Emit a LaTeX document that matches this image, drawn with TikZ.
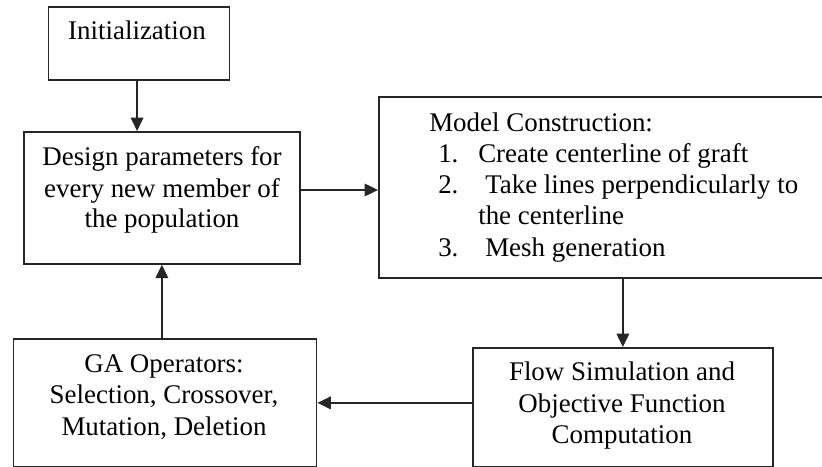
\documentclass[tikz,border=0pt]{standalone}
\usepackage{fontspec}
\setmainfont{Liberation Serif}
\usetikzlibrary{arrows.meta}
\begin{document}
\begin{tikzpicture}[x=0.75pt,y=-0.75pt,
  box/.style={draw=black!85, line width=1.3pt, rectangle, inner sep=0pt, anchor=north west},
  txt/.style={inner sep=0pt, anchor=base, font=\fontsize{20.2pt}{23.6pt}\selectfont},
  ltxt/.style={txt, anchor=base west},
  arr/.style={draw=black!85, line width=1pt, -{Triangle[length=10pt,width=9.5pt]}}]
\useasboundingbox (0,0) rectangle (822,467);
% boxes
\node[box, minimum width=181pt*0.75, minimum height=73pt*0.75] (init) at (47.7,6) {};
\node[box, minimum width=276pt*0.75, minimum height=132pt*0.75] (design) at (23,131) {};
\node[box, minimum width=452pt*0.75, minimum height=181pt*0.75] (model) at (378,96) {};
\node[box, minimum width=303pt*0.75, minimum height=128pt*0.75] (ga) at (12.7,338) {};
\node[box, minimum width=300pt*0.75, minimum height=119pt*0.75] (flow) at (472,347) {};
% texts
\node[txt] (t1) at (137,39.5) {Initialization};
\node[txt] (t2a) at (162,166) {Design parameters for};
\node[txt] (t2b) at (162,197) {every new member of};
\node[txt] (t2c) at (162,228) {the population};
\node[ltxt] (t3a) at (429,132) {Model Construction:};
\node[ltxt] (t3b) at (438,162.5) {1.};
\node[ltxt] (t3c) at (478,162.5) {Create centerline of graft};
\node[ltxt] (t3d) at (438,193.5) {2.};
\node[ltxt] (t3e) at (485,193.5) {Take lines perpendicularly to};
\node[ltxt] (t3f) at (478,224.5) {the centerline};
\node[ltxt] (t3g) at (438,256) {3.};
\node[ltxt] (t3h) at (485,256) {Mesh generation};
\node[txt] (t4a) at (164,372) {GA Operators:};
\node[txt] (t4b) at (164,403.5) {Selection, Crossover,};
\node[txt] (t4c) at (164,435) {Mutation, Deletion};
\node[txt] (t5a) at (622,380.5) {Flow Simulation and};
\node[txt] (t5b) at (622,412) {Objective Function};
\node[txt] (t5c) at (622,443.5) {Computation};
% connectors
\coordinate (mid) at (0,190);
\draw[arr] ([xshift=-1.5pt]init.south) -- ([xshift=-1.5pt]init.south |- design.north);
\draw[arr] (design.east |- mid) -- (model.west |- mid);
\draw[arr] (flow.north |- model.south) -- (flow.north);
\draw[arr] (flow.west |- ga.east) -- (ga.east);
\draw[arr] (ga.north -| design.south) -- (design.south);
\end{tikzpicture}
\end{document}
